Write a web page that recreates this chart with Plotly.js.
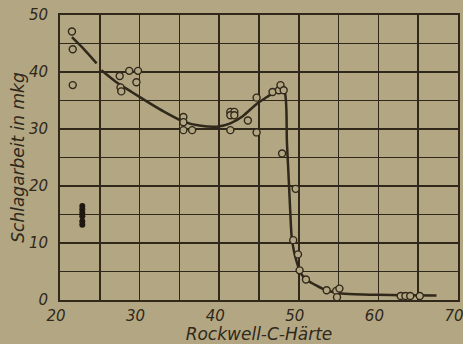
<!DOCTYPE html>
<html>
<head>
<meta charset="utf-8">
<script src="https://cdn.plot.ly/plotly-3.0.1.min.js"></script>
<style>html,body{margin:0;padding:0;background:#b3a783;}</style>
</head>
<body>
<div id="chart" style="width:463px;height:344px;"></div>
<script>
// Open-circle measurements (Rockwell-C hardness, impact work in mkg)
const hardOpen = [21.5,21.6,21.6,27.5,28.7,29.8,29.6,27.6,27.7,35.5,35.5,35.5,36.6,41.4,41.9,41.4,41.9,41.4,43.6,44.7,44.7,46.7,47.5,47.7,48.1,47.9,49.6,49.3,49.9,50.1,50.9,53.5,54.7,55.1,54.8,62.8,63.4,64.0,65.2];
const workOpen = [47.1,44.0,37.7,39.3,40.2,40.2,38.2,37.3,36.6,32.1,31.2,29.8,29.8,33.0,33.0,32.4,32.4,29.8,31.5,35.5,29.4,36.5,36.8,37.7,36.8,25.7,19.5,10.5,8.0,5.2,3.6,1.7,1.6,2.0,0.5,0.7,0.7,0.7,0.7];
// Filled points
const hardFilled = [22.8,22.8,22.8,22.8,22.8,22.8];
const workFilled = [16.5,15.9,15.3,14.7,13.8,13.2];
// Fitted curve
const hardCurve = [21.5,23.0,24.6,null,25.2,27.0,29.0,31.3,33.0,35.5,37.5,39.7,41.4,43.0,44.7,46.0,47.3,48.1,48.35,48.45,48.5,48.7,48.9,49.1,49.4,49.8,50.3,51.0,52.0,52.9,54.0,55.0,57.0,60.0,63.0,67.3];
const workCurve = [46.1,44.0,41.5,null,40.3,38.3,36.5,34.5,33.1,31.3,30.6,30.4,31.0,32.3,34.4,35.6,36.8,37.3,35.5,33.0,28.0,22.2,16.3,11.1,8.5,6.4,4.6,3.5,2.7,2.05,1.5,1.2,1.0,0.9,0.85,0.8];
const xTicks = [20,30,40,50,60,70];
const yTicks = [0,10,20,30,40,50];

const ink = '#30281a';
const bg = '#b3a783';
const tickFont = {family:'DejaVu Sans', size:15, color:ink, style:'italic'};
const titleFont = {family:'DejaVu Sans', size:17, color:ink, style:'italic'};

const traces = [
  {x:hardCurve, y:workCurve, mode:'lines', line:{color:ink, width:2.5, shape:'spline', smoothing:0.6}, connectgaps:false, hoverinfo:'skip'},
  {x:hardOpen, y:workOpen, mode:'markers', marker:{symbol:'circle', size:7, color:bg, line:{color:ink, width:1.4}}},
  {x:hardFilled, y:workFilled, mode:'markers', marker:{symbol:'circle', size:6, color:'#1e1810', line:{width:0}}}
];

const layout = {
  width:463, height:344,
  margin:{l:60, r:5, t:15, b:44},
  paper_bgcolor:bg, plot_bgcolor:bg,
  showlegend:false,
  xaxis:{
    range:[20,70], tickvals:xTicks, ticktext:xTicks.map(String),
    automargin:false,
    showgrid:true, gridcolor:ink, gridwidth:1.5,
    minor:{dtick:5, showgrid:true, gridcolor:ink, gridwidth:1.5},
    showline:true, mirror:true, linecolor:ink, linewidth:2,
    zeroline:false, ticks:'', tickfont:tickFont, ticklabelstandoff:1,
    ticklabeloverflow:'allow', ticklabelshift:-4,
    title:{text:'Rockwell-C-Härte', font:titleFont, standoff:0}
  },
  yaxis:{
    range:[0,50], tickvals:yTicks, ticktext:yTicks.map(String),
    automargin:false,
    showgrid:true, gridcolor:ink, gridwidth:1.5,
    minor:{dtick:5, showgrid:true, gridcolor:ink, gridwidth:1.5},
    showline:true, mirror:true, linecolor:ink, linewidth:2,
    zeroline:false, ticks:'', tickfont:tickFont, ticklabelstandoff:7,
    ticklabeloverflow:'allow',
    title:{text:'Schlagarbeit in mkg', font:titleFont, standoff:0}
  }
};

Plotly.newPlot('chart', traces, layout, {staticPlot:true, displayModeBar:false});
</script>
</body>
</html>
